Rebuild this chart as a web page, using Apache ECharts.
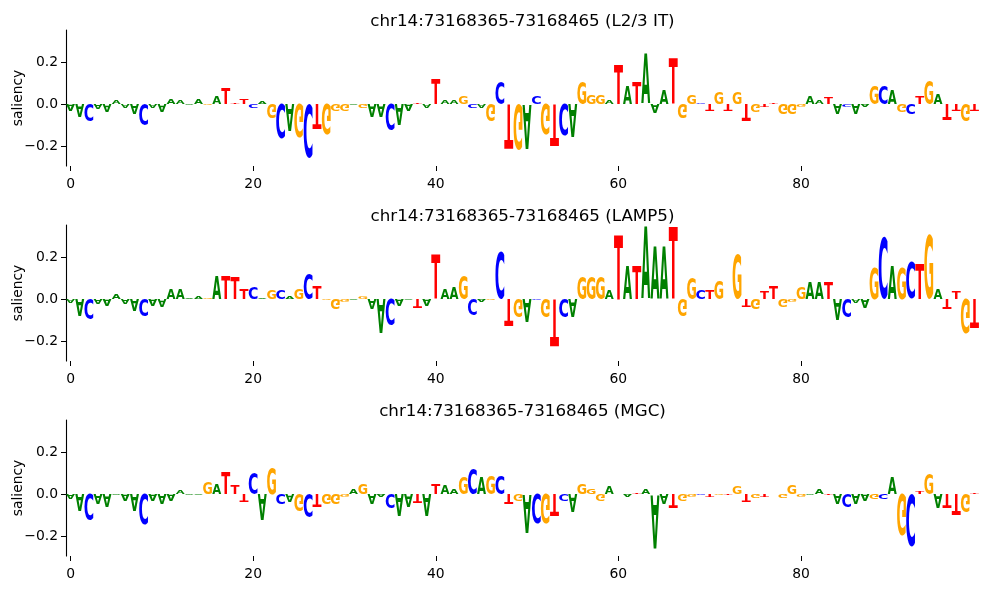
<!DOCTYPE html>
<html>
<head>
<meta charset="utf-8">
<script src="https://cdn.jsdelivr.net/npm/echarts@6/dist/echarts.min.js"></script>
<style>
  html, body { margin: 0; padding: 0; background: #fff; }
  #chart { width: 989px; height: 590px; }
</style>
</head>
<body>
<div id="chart"></div>
<script>
// sequence shown in every panel (position 0..99)
const sequence =
  'AACAAAAACA' + 'AAAAAGATTT' + 'CAGCAGCTGG' + 'GAGAACAATA' + 'TAAGCAGCTG' +
  'ACGTCAGGGA' + 'TATAAATGGC' + 'TGTGTGTTGG' + 'GAATACAAGC' + 'AGCTGATTGT'

const titles = [
  'chr14:73168365-73168465 (L2/3 IT)',
  'chr14:73168365-73168465 (LAMP5)',
  'chr14:73168365-73168465 (MGC)'
]

// saliency per position
const l23it = [
  -0.03, -0.06, -0.08, -0.025, -0.04, 0.02, -0.02, -0.05, -0.1, -0.02,
  -0.035, 0.025, 0.02, -0.005, 0.025, -0.005, 0.035, 0.075, 0.005, 0.025,
  -0.02, 0.01, -0.07, -0.17, -0.13, -0.16, -0.26, -0.12, -0.15, -0.03,
  -0.03, -0.005, -0.02, -0.06, -0.06, -0.13, -0.1, -0.03, 0.005, -0.02,
  0.12, 0.015, 0.015, 0.04, -0.02, -0.02, -0.08, 0.11, -0.21, -0.22,
  -0.21, 0.04, -0.15, -0.2, -0.155, -0.155, 0.106, 0.043, 0.043, 0.02,
  0.19, 0.09, 0.105, 0.236, -0.045, 0.067, 0.217, -0.07, 0.046, 0.005,
  -0.03, 0.06, -0.03, 0.06, -0.08, -0.035, -0.01, 0.005, -0.05, -0.05,
  -0.015, 0.04, 0.02, 0.03, -0.05, -0.012, -0.05, -0.01, 0.09, 0.09,
  0.067, -0.035, -0.05, 0.035, 0.115, 0.05, -0.073, -0.03, -0.085, -0.03
]
const lamp5 = [
  -0.02, -0.08, -0.095, -0.025, -0.03, 0.025, -0.025, -0.055, -0.085, -0.03,
  -0.04, 0.05, 0.05, 0.005, 0.01, 0.008, 0.114, 0.11, 0.105, 0.05,
  0.06, 0.005, 0.046, 0.046, 0.01, 0.05, 0.12, 0.06, -0.005, -0.05,
  -0.015, -0.005, 0.015, -0.05, -0.165, -0.13, -0.03, -0.005, -0.045, -0.03,
  0.21, 0.05, 0.055, 0.115, -0.075, -0.01, -0.005, 0.225, -0.13, -0.09,
  -0.11, -0.005, -0.087, -0.225, -0.09, -0.09, 0.11, 0.11, 0.11, 0.043,
  0.31, 0.154, 0.154, 0.345, 0.25, 0.25, 0.345, -0.08, 0.1, 0.046,
  0.046, 0.09, 0.002, 0.21, -0.04, -0.05, 0.04, 0.06, -0.04, -0.01,
  0.06, 0.083, 0.083, 0.083, -0.097, -0.092, -0.02, -0.045, 0.157, 0.297,
  0.154, 0.154, 0.183, 0.17, 0.31, 0.05, -0.05, 0.04, -0.17, -0.14
]
const mgc = [
  -0.025, -0.08, -0.13, -0.052, -0.06, -0.003, -0.03, -0.08, -0.145, -0.033,
  -0.05, -0.033, 0.015, -0.005, -0.005, 0.06, 0.05, 0.105, 0.043, -0.04,
  0.1, -0.124, 0.13, -0.052, -0.04, -0.085, -0.113, -0.06, -0.052, -0.05,
  -0.013, 0.024, 0.05, -0.052, -0.01, -0.072, -0.108, -0.06, -0.044, -0.108,
  0.05, 0.043, 0.024, 0.083, 0.125, 0.078, 0.09, 0.09, -0.052, -0.033,
  -0.18, -0.14, -0.14, -0.108, -0.03, -0.085, 0.05, 0.024, -0.033, 0.04,
  0.001, -0.013, 0.008, 0.024, -0.26, -0.05, -0.068, -0.033, -0.01, -0.008,
  -0.013, -0.005, -0.005, 0.035, -0.04, -0.02, -0.01, 0.001, -0.02, 0.043,
  -0.013, -0.008, 0.024, -0.008, -0.05, -0.065, -0.05, -0.033, -0.028, -0.028,
  0.083, -0.2, -0.25, 0.012, 0.094, -0.068, -0.068, -0.1, -0.09, 0.005
]

const xTicks = [0, 20, 40, 60, 80]
const yTicks = [-0.2, 0, 0.2]

const panels = [l23it, lamp5, mgc]
const tops = [30, 225, 420]
const colors = { A: '#008000', C: '#0000ff', G: '#ffa500', T: '#ff0000' }
const glyphFont = 'bold 100px "DejaVu Sans"'

// ink extents of each glyph (anchor = left / middle baseline, same as zrender draws)
const ctx = document.createElement('canvas').getContext('2d')
ctx.font = glyphFont
ctx.textAlign = 'left'
ctx.textBaseline = 'middle'
const ink = {}
for (const ch of 'ACGT') {
  const m = ctx.measureText(ch)
  ink[ch] = {
    l: m.actualBoundingBoxLeft,
    r: m.actualBoundingBoxRight,
    a: m.actualBoundingBoxAscent,
    d: m.actualBoundingBoxDescent
  }
}

function renderLetter(params, api) {
  const pos = api.value(0)
  const val = api.value(1)
  const ch = sequence[pos]
  const k = ink[ch]
  const p0 = api.coord([pos - 0.49, 0])
  const p1 = api.coord([pos + 0.49, val])
  const w = p1[0] - p0[0]
  const h = Math.abs(p1[1] - p0[1])
  if (h < 0.3) return
  const sx = w / (k.l + k.r)
  let sy = h / (k.a + k.d)
  if (val < 0) sy = -sy // letters below zero are flipped
  return {
    type: 'text',
    x: p0[0] + k.l * sx,
    y: p1[1] + k.a * sy,
    scaleX: sx,
    scaleY: sy,
    style: {
      text: ch,
      font: glyphFont,
      fill: colors[ch],
      x: 0,
      y: 0,
      align: 'left',
      verticalAlign: 'middle'
    }
  }
}

const fmtY = v => (v < 0 ? '\u2212' : '') + Math.abs(v).toFixed(1)

const chart = echarts.init(document.getElementById('chart'))
chart.setOption({
  animation: false,
  textStyle: { fontFamily: 'DejaVu Sans' },
  title: titles.map((t, i) => ({
    text: t,
    left: 522.5,
    top: tops[i] - 17,
    textAlign: 'center',
    padding: 0,
    textStyle: { fontSize: 16.7, fontWeight: 'normal', color: '#000', fontFamily: 'DejaVu Sans' }
  })),
  grid: panels.map((p, i) => ({
    left: 66, right: 10, top: tops[i], height: 136,
    containLabel: false, outerBoundsMode: 'none'
  })),
  xAxis: panels.map((p, i) => ({
    type: 'value',
    gridIndex: i,
    min: -0.5,
    max: 99.5,
    axisLine: { show: false, onZero: false },
    axisTick: { show: true, length: 5, customValues: xTicks, lineStyle: { color: '#000', width: 1 } },
    axisLabel: { customValues: xTicks, margin: 11, color: '#000', fontSize: 13.9, fontFamily: 'DejaVu Sans' },
    splitLine: { show: false }
  })),
  yAxis: panels.map((p, i) => ({
    type: 'value',
    gridIndex: i,
    min: -0.295,
    max: 0.352,
    name: 'saliency',
    nameLocation: 'middle',
    nameGap: 41,
    nameMoveOverlap: false,
    nameTextStyle: { fontSize: 13.9, color: '#000', fontFamily: 'DejaVu Sans' },
    axisLine: { show: true, onZero: false, lineStyle: { color: '#000', width: 1.1 } },
    axisTick: { show: true, length: 5, customValues: yTicks, lineStyle: { color: '#000', width: 1 } },
    axisLabel: { customValues: yTicks, formatter: fmtY, margin: 8, color: '#000', fontSize: 13.9, fontFamily: 'DejaVu Sans' },
    splitLine: { show: false }
  })),
  series: panels.map((vals, i) => ({
    type: 'custom',
    xAxisIndex: i,
    yAxisIndex: i,
    clip: true,
    silent: true,
    renderItem: renderLetter,
    data: vals.map((v, pos) => [pos, v])
  }))
})
</script>
</body>
</html>
